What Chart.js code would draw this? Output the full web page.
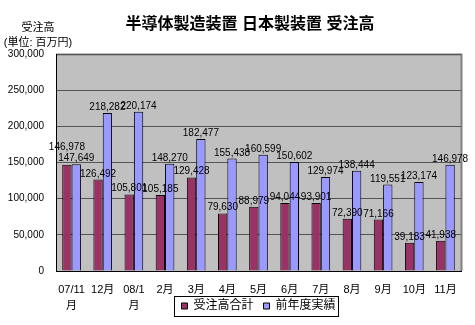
<!DOCTYPE html>
<html>
<head>
<meta charset="utf-8">
<script src="https://cdn.jsdelivr.net/npm/chart.js@4/dist/chart.umd.min.js"></script>
<style>
  body { margin: 0; background: #fff; }
  canvas { display: block; }
</style>
</head>
<body>
<canvas id="chart-orders" width="475" height="325"></canvas>
<script>
var months = [["07/11", "月"], "12月", ["08/1", "月"], "2月", "3月", "4月", "5月", "6月", "7月", "8月", "9月", "10月", "11月"];
var ordersTotal = [146978, 126492, 105801, 105185, 129428, 79630, 88979, 94044, 93901, 72390, 71166, 39183, 41938];
var lastYear = [147649, 218282, 220174, 148270, 182477, 155438, 160599, 150602, 129974, 138444, 119551, 123174, 146978];
var seriesNames = ["受注高合計", "前年度実績"];
var chartTitle = "半導体製造装置 日本製装置 受注高";
var axisTitle = ["受注高", "(単位: 百万円)"];

var FONT = "'Liberation Sans', 'Noto Sans CJK JP', sans-serif";

const fmt = (v) => Number(v).toLocaleString("en-US");

// gray plot area + frame
const plotBg = {
  id: "plotBg",
  afterLayout(chart) {
    // let the two-line month labels run past the (short) x scale box
    chart.scales.x.bottom = chart.height;
  },
  beforeDraw(chart) {
    const { ctx, chartArea: a } = chart;
    ctx.save();
    ctx.fillStyle = "#c0c0c0";
    ctx.fillRect(a.left, a.top, a.right - a.left, a.bottom - a.top);
    ctx.strokeStyle = "#808080";
    ctx.lineWidth = 2;
    ctx.beginPath();
    ctx.moveTo(a.left, a.top + 0.5);
    ctx.lineTo(a.right + 0.5, a.top + 0.5);
    ctx.lineTo(a.right + 0.5, a.bottom);
    ctx.stroke();
    ctx.restore();
  },
};

// value labels above the bars
const barLabels = {
  id: "barLabels",
  afterDatasetsDraw(chart) {
    const ctx = chart.ctx;
    ctx.save();
    ctx.font = "10px " + FONT;
    ctx.fillStyle = "#000";
    ctx.textAlign = "center";
    ctx.textBaseline = "alphabetic";
    const m0 = chart.getDatasetMeta(0).data;
    const m1 = chart.getDatasetMeta(1).data;
    const d0 = chart.data.datasets[0].data;
    const d1 = chart.data.datasets[1].data;
    m0.forEach(function (bar, i) {
      const t0 = fmt(d0[i]), t1 = fmt(d1[i]);
      let y0 = bar.y - 3, y1 = m1[i].y - 3;
      const w = (ctx.measureText(t0).width + ctx.measureText(t1).width) / 2;
      if (Math.abs(bar.x - m1[i].x) < w && Math.abs(y0 - y1) < 11) {
        y0 = Math.min(y0, y1) - 11;
      }
      ctx.fillText(t0, bar.x, y0);
      ctx.fillText(t1, m1[i].x, y1);
    });
    ctx.restore();
  },
};

// title, unit text and legend frame
const extraText = {
  id: "extraText",
  afterDraw(chart) {
    const ctx = chart.ctx;
    ctx.save();
    ctx.fillStyle = "#000";
    ctx.textAlign = "center";
    ctx.textBaseline = "middle";
    ctx.font = "bold 16px " + FONT;
    ctx.fillText(chartTitle, 250, 25);
    ctx.font = "11px " + FONT;
    ctx.fillText(axisTitle[0], 38, 28);
    ctx.fillText(axisTitle[1], 38, 43);

    const hb = chart.legend.legendHitBoxes;
    if (hb && hb.length) {
      const left = hb[0].left - 7;
      const right = hb[hb.length - 1].left + hb[hb.length - 1].width + 3;
      const mid = hb[0].top + hb[0].height / 2;
      ctx.strokeStyle = "#000";
      ctx.lineWidth = 1;
      ctx.strokeRect(Math.round(left) + 0.5, Math.round(mid - 10) + 0.5, Math.round(right - left), 20);
    }
    ctx.restore();
  },
};

new Chart(document.getElementById("chart-orders").getContext("2d"), {
  type: "bar",
  data: {
    labels: months,
    datasets: [
      {
        label: seriesNames[0],
        data: ordersTotal,
        backgroundColor: "#993366",
        borderColor: "#000",
        borderWidth: 1,
        categoryPercentage: 0.6,
        barPercentage: 1,
      },
      {
        label: seriesNames[1],
        data: lastYear,
        backgroundColor: "#9999ff",
        borderColor: "#000",
        borderWidth: 1,
        categoryPercentage: 0.6,
        barPercentage: 1,
      },
    ],
  },
  options: {
    responsive: false,
    animation: false,
    layout: { padding: { top: 54, right: 14, bottom: 3, left: 0 } },
    plugins: {
      title: { display: false },
      tooltip: { enabled: false },
      legend: {
        position: "bottom",
        fullSize: false,
        labels: {
          boxWidth: 6,
          boxHeight: 6,
          padding: 10,
          color: "#000",
          font: { family: FONT, size: 12 },
        },
      },
    },
    scales: {
      x: {
        grid: { display: false, drawTicks: false },
        border: { color: "#000", width: 1 },
        ticks: {
          autoSkip: false,
          maxRotation: 0,
          minRotation: 0,
          padding: 11,
          color: "#000",
          font: { family: FONT, size: 11, lineHeight: "16px" },
        },
        afterFit(scale) {
          scale.height = 19;
        },
      },
      y: {
        min: 0,
        max: 300000,
        grid: { color: "#555", drawTicks: false },
        border: { color: "#000", width: 1 },
        ticks: {
          stepSize: 50000,
          padding: 12,
          color: "#000",
          font: { family: FONT, size: 10 },
          callback: (v) => fmt(v),
        },
        afterFit(scale) {
          scale.width = 56;
        },
      },
    },
  },
  plugins: [plotBg, barLabels, extraText],
});
</script>
</body>
</html>
